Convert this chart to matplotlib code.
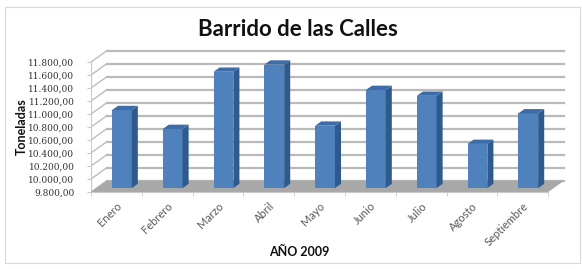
import numpy as np
import matplotlib.pyplot as plt
from matplotlib.patches import Polygon, Rectangle

meses = ['Enero', 'Febrero', 'Marzo', 'Abril', 'Mayo', 'Junio', 'Julio', 'Agosto', 'Septiembre']
toneladas = [11000, 10710, 11590, 11700, 10760, 11310, 11220, 10480, 10950]
yticks = np.arange(9800, 11801, 200)
ytick_labels = ['{:,.2f}'.format(v).replace(',', 'X').replace('.', ',').replace('X', '.') for v in yticks]

base = 9800
dx, dy = 0.315, 175      # oblique depth offset in data units
f0, f1 = 0.34, 0.72      # bar depth range (fraction of depth)
w = 0.39

fig = plt.figure(figsize=(5.82, 2.69), dpi=100)
fig.patches.append(Rectangle((5 / 582, 6 / 269), 575 / 582, 256 / 269, transform=fig.transFigure,
                             fill=False, edgecolor='#d9d9d9', lw=0.8))
ax = fig.add_axes([91 / 582, 77 / 269, 477.5 / 582, 143 / 269])
ax.set_xlim(0, 9.4)
ax.set_ylim(base, 12000)
for s in ['top', 'right', 'left']:
    ax.spines[s].set_visible(False)
ax.spines['bottom'].set_bounds(0, 9)
ax.spines['bottom'].set_color('#c8c8c8')

# walls and gridlines
n = len(meses)
for v in yticks:
    ax.plot([0, dx], [v, v + dy], color='#bdbdbd', lw=1.0, zorder=1)
    ax.plot([dx, n + dx], [v + dy, v + dy], color='#bababa', lw=1.6, zorder=1)
ax.plot([0, 0], [base, yticks[-1]], color='#c8c8c8', lw=0.8, zorder=1)

# floor
ax.add_patch(Polygon([(0, base), (n, base), (n + dx, base + dy), (dx, base + dy)],
                     closed=True, facecolor='#a8a8a8', edgecolor='none', zorder=2))

# bars
x = np.arange(n) + 0.5 + f0 * dx
vals = np.array(toneladas)
ax.bar(x, vals - base, bottom=base + f0 * dy, width=w, color='#4f81bd', zorder=4)
ddx, ddy = (f1 - f0) * dx, (f1 - f0) * dy
for xi, v in zip(x, vals):
    l, r = xi - w / 2, xi + w / 2
    t = v + f0 * dy
    b = base + f0 * dy
    ax.add_patch(Polygon([(r, b), (r + ddx, b + ddy), (r + ddx, t + ddy), (r, t)],
                         closed=True, facecolor='#2f5a8e', edgecolor='none', zorder=4))
    ax.add_patch(Polygon([(l, t), (r, t), (r + ddx, t + ddy), (l + ddx, t + ddy)],
                         closed=True, facecolor='#3e6ca8', edgecolor='none', zorder=4))

ax.set_yticks(yticks, ytick_labels, family='DejaVu Serif', fontsize=6.5, color='#333333')
ax.tick_params(axis='y', length=3, color='#c8c8c8', pad=9)
ax.set_xticks(np.arange(n) + 0.5, meses, rotation=45, ha='right', rotation_mode='anchor',
              family='Lato', fontsize=8, color='#595959')
ax.set_xticks(np.arange(n + 1), minor=True)
ax.tick_params(axis='x', which='major', length=0, pad=6)
ax.tick_params(axis='x', which='minor', length=3, color='#c8c8c8')

fig.text(298 / 582, 1 - 30 / 269, 'Barrido de las Calles', ha='center', va='center',
         family='Lato', fontweight='bold', fontsize=16, color='#111111')
fig.text(299 / 582, 1 - 251.5 / 269, 'AÑO 2009', ha='center', va='center',
         family='Lato', fontweight='bold', fontsize=9, color='#111111')
fig.text(22 / 582, 1 - 127 / 269, 'Toneladas', ha='center', va='center', rotation=90,
         family='Lato', fontweight='bold', fontsize=9, color='#111111')

fig.savefig('out.png', dpi=100)
